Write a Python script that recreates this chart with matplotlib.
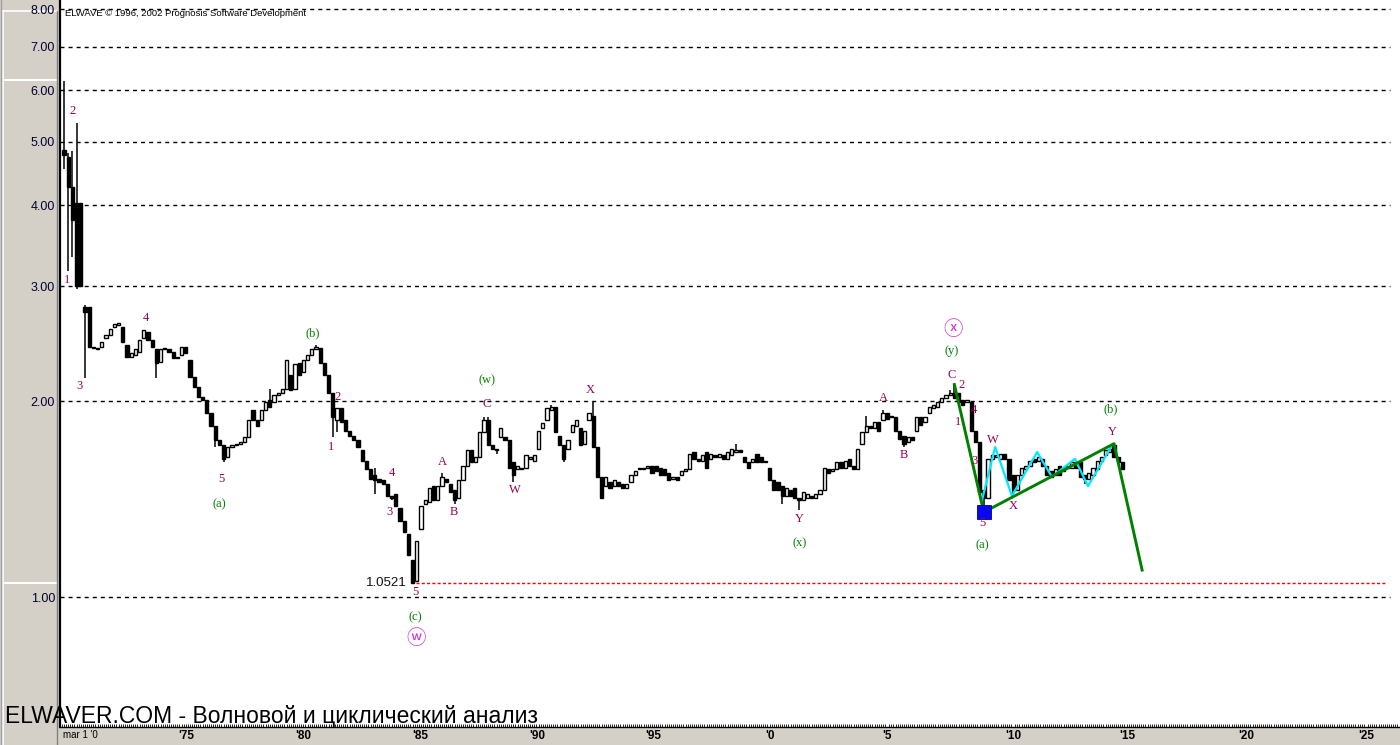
import numpy as np
import matplotlib.pyplot as plt
from matplotlib.lines import Line2D
from matplotlib.ticker import FixedLocator, NullLocator, MultipleLocator

# Bar data (one bar per index)
opens = [
    4.86, 4.74, 4.26, 4.03, 4.03, 2.79, 2.79, 2.42, 2.41, 2.42,
    2.50, 2.53, 2.60, 2.62, 2.60, 2.44, 2.34, 2.35, 2.38, 2.50,
    2.55, 2.48, 2.40, 2.30, 2.40, 2.40, 2.38, 2.33, 2.35, 2.42,
    2.31, 2.18, 2.10, 2.03, 2.01, 1.92, 1.83, 1.74, 1.71, 1.64,
    1.70, 1.71, 1.72, 1.73, 1.76, 1.94, 1.87, 1.87, 1.94, 2.01,
    1.99, 2.04, 2.06, 2.09, 2.19, 2.09, 2.29, 2.22, 2.31, 2.35,
    2.40, 2.41, 2.29, 2.19, 2.06, 1.87, 1.95, 1.87, 1.80, 1.77,
    1.74, 1.68, 1.62, 1.57, 1.54, 1.52, 1.51, 1.49, 1.43, 1.44,
    1.37, 1.31, 1.25, 1.14, 1.06, 1.27, 1.39, 1.40, 1.48, 1.41,
    1.48, 1.52, 1.49, 1.46, 1.42, 1.51, 1.59, 1.68, 1.61, 1.64,
    1.79, 1.87, 1.71, 1.69, 1.76, 1.76, 1.74, 1.61, 1.57, 1.58,
    1.58, 1.63, 1.62, 1.69, 1.82, 1.87, 1.94, 1.96, 1.77, 1.71,
    1.69, 1.79, 1.83, 1.82, 1.72, 1.87, 1.90, 1.70, 1.53, 1.48,
    1.50, 1.48, 1.50, 1.49, 1.47, 1.50, 1.54, 1.57, 1.57, 1.58,
    1.59, 1.59, 1.58, 1.57, 1.55, 1.52, 1.53, 1.54, 1.56, 1.57,
    1.67, 1.63, 1.62, 1.67, 1.63, 1.65, 1.64, 1.65, 1.63, 1.65,
    1.67, 1.68, 1.64, 1.61, 1.61, 1.66, 1.64, 1.62, 1.58, 1.51,
    1.50, 1.48, 1.43, 1.46, 1.47, 1.42, 1.41, 1.42, 1.43, 1.42,
    1.44, 1.46, 1.57, 1.56, 1.57, 1.61, 1.58, 1.63, 1.59, 1.57,
    1.72, 1.79, 1.83, 1.82, 1.86, 1.87, 1.92, 1.90, 1.89, 1.80,
    1.77, 1.73, 1.76, 1.80, 1.89, 1.86, 1.92, 1.95, 1.96, 1.99,
    2.02, 2.04, 2.06, 2.06, 2.01, 1.99, 1.99, 1.80, 1.73, 1.46,
    1.42, 1.63, 1.64, 1.63, 1.66, 1.63, 1.54, 1.46, 1.54, 1.57,
    1.59, 1.63, 1.62, 1.63, 1.59, 1.56, 1.54, 1.59, 1.56, 1.58,
    1.58, 1.61, 1.61, 1.54, 1.52, 1.54, 1.57, 1.62, 1.65, 1.67,
    1.71, 1.64, 1.61,
]
closes = [
    4.77, 4.26, 3.79, 3.00, 3.00, 2.74, 2.42, 2.41, 2.40, 2.46,
    2.53, 2.58, 2.63, 2.64, 2.46, 2.34, 2.37, 2.40, 2.48, 2.57,
    2.48, 2.42, 2.29, 2.40, 2.41, 2.38, 2.33, 2.34, 2.42, 2.37,
    2.18, 2.10, 2.03, 2.01, 1.92, 1.83, 1.74, 1.71, 1.63, 1.70,
    1.71, 1.72, 1.73, 1.76, 1.87, 1.87, 1.83, 1.94, 1.99, 1.96,
    2.04, 2.06, 2.09, 2.31, 2.08, 2.28, 2.19, 2.31, 2.35, 2.40,
    2.42, 2.29, 2.19, 2.06, 1.89, 1.95, 1.86, 1.80, 1.77, 1.74,
    1.70, 1.62, 1.57, 1.52, 1.51, 1.50, 1.49, 1.43, 1.42, 1.38,
    1.31, 1.26, 1.16, 1.0521, 1.22, 1.38, 1.41, 1.47, 1.41, 1.48,
    1.53, 1.50, 1.45, 1.41, 1.51, 1.59, 1.68, 1.61, 1.64, 1.79,
    1.87, 1.71, 1.69, 1.68, 1.82, 1.74, 1.58, 1.54, 1.59, 1.57,
    1.65, 1.64, 1.65, 1.80, 1.85, 1.95, 1.96, 1.79, 1.71, 1.63,
    1.74, 1.84, 1.87, 1.71, 1.80, 1.92, 1.70, 1.53, 1.42, 1.53,
    1.47, 1.51, 1.48, 1.47, 1.49, 1.54, 1.56, 1.58, 1.58, 1.59,
    1.55, 1.56, 1.54, 1.54, 1.51, 1.53, 1.51, 1.56, 1.57, 1.66,
    1.63, 1.62, 1.65, 1.58, 1.66, 1.64, 1.66, 1.63, 1.67, 1.69,
    1.68, 1.67, 1.61, 1.58, 1.63, 1.61, 1.61, 1.61, 1.51, 1.46,
    1.46, 1.43, 1.47, 1.43, 1.42, 1.41, 1.45, 1.44, 1.42, 1.44,
    1.46, 1.58, 1.55, 1.57, 1.61, 1.58, 1.62, 1.59, 1.57, 1.69,
    1.79, 1.83, 1.82, 1.86, 1.80, 1.92, 1.88, 1.89, 1.80, 1.75,
    1.72, 1.76, 1.74, 1.89, 1.84, 1.89, 1.96, 1.97, 1.99, 2.02,
    2.04, 2.06, 2.02, 1.99, 1.97, 2.01, 1.80, 1.73, 1.45, 1.42,
    1.63, 1.65, 1.65, 1.66, 1.63, 1.51, 1.46, 1.54, 1.58, 1.59,
    1.62, 1.61, 1.64, 1.59, 1.54, 1.53, 1.57, 1.54, 1.58, 1.59,
    1.61, 1.58, 1.53, 1.52, 1.55, 1.58, 1.62, 1.64, 1.68, 1.69,
    1.64, 1.61, 1.57,
]
# visible wick extremes (bar index -> price)
wick_highs = {0: 6.20, 1: 4.80, 2: 4.84, 3: 5.34, 5: 2.81, 49: 2.09, 60: 2.44,
              74: 1.58, 90: 1.55, 100: 1.89, 101: 1.89, 116: 1.97, 126: 1.99,
              160: 1.72, 191: 1.90, 195: 1.94, 211: 2.08, 212: 2.12, 250: 1.72}
wick_lows = {0: 4.54, 1: 3.17, 2: 3.33, 3: 2.97, 5: 2.17, 22: 2.17, 36: 1.70,
             38: 1.61, 64: 1.76, 65: 1.79, 74: 1.44, 78: 1.41, 93: 1.39, 103: 1.66,
             107: 1.50, 119: 1.61, 171: 1.39, 175: 1.36, 200: 1.70, 219: 1.35,
             226: 1.43, 243: 1.49}

low_value = 1.0521

# wave count lines
green_x = [212, 219, 250, 256.7]
green_y = [2.12, 1.35, 1.72, 1.10]
cyan_x = [218.6, 221.7, 225.7, 231.7, 235.2, 240.7, 243.8, 249.3]
cyan_y = [1.41, 1.70, 1.43, 1.67, 1.53, 1.63, 1.48, 1.70]

price_ticks = [1, 2, 3, 4, 5, 6, 7, 8]
price_labels = ["1.00", "2.00", "3.00", "4.00", "5.00", "6.00", "7.00", "8.00"]
year_ticks = [29.05, 56.9, 84.8, 112.6, 140.2, 168.1, 196.0, 226.0, 253.1, 281.4, 310.0]
year_labels = ["'75", "'80", "'85", "'90", "'95", "'0", "'5", "'10", "'15", "'20", "'25"]

# wave labels: text, bar index, price, kind
wave_labels = [
    ("2", 2.1, 5.58, "m"), ("1", 0.7, 3.07, "m"), ("3", 3.8, 2.11, "m"), ("4", 19.5, 2.68, "m"),
    ("5", 37.4, 1.52, "m"), ("(a)", 37.1, 1.39, "g"), ("(b)", 59.3, 2.54, "g"),
    ("2", 65.2, 2.03, "m"), ("1", 63.6, 1.70, "m"), ("4", 78.1, 1.55, "m"), ("3", 77.4, 1.35, "m"),
    ("A", 90.2, 1.61, "m"), ("B", 92.9, 1.35, "m"), ("5", 83.6, 1.018, "m"), ("(c)", 83.6, 0.932, "g"),
    ("\u24e6", 83.8, 0.865, "c"),
    ("(w)", 100.7, 2.15, "g"), ("C", 100.7, 1.98, "m"), ("W", 107.4, 1.46, "m"), ("X", 125.2, 2.08, "m"),
    ("Y", 175.2, 1.32, "m"), ("(x)", 175.2, 1.21, "g"), ("A", 195.2, 2.02, "m"), ("B", 200.0, 1.65, "m"),
    ("\u24e7", 211.7, 2.58, "c"), ("(y)", 211.4, 2.39, "g"), ("C", 211.4, 2.19, "m"), ("2", 213.6, 2.12, "m"),
    ("1", 212.9, 1.86, "m"), ("4", 216.7, 1.94, "m"), ("3", 216.7, 1.62, "m"),
    ("W", 221.2, 1.74, "m"), ("X", 226.0, 1.38, "m"), ("5", 218.6, 1.30, "m"), ("(a)", 218.6, 1.20, "g"),
    ("Y", 249.5, 1.79, "m"), ("(b)", 249.3, 1.94, "g"),
]

W, H = 1400, 745
GREY = "#D4D0C8"

fig = plt.figure(figsize=(W / 100, H / 100), dpi=100, facecolor=GREY)
ax = fig.add_axes([60 / W, 18 / H, 1340 / W, 727 / H])
ax.set_facecolor("white")
ax.set_yscale("log")
ax.set_xlim(-0.95, 318.1)
ax.set_ylim(0.6315, 8.26)

# candles
o = np.array(opens)
c = np.array(closes)
idx = np.arange(len(c))
hi = np.maximum(o, c)
lo = np.minimum(o, c)
for k, v in wick_highs.items():
    hi[k] = v
for k, v in wick_lows.items():
    lo[k] = v
up = c >= o
ax.vlines(idx, lo, hi, color="black", lw=1.1, zorder=3)
ax.bar(idx[up], c[up] - o[up], bottom=o[up], width=0.8, facecolor="white",
       edgecolor="black", lw=1.0, zorder=4)
ax.bar(idx[~up], o[~up] - c[~up], bottom=c[~up], width=0.8, facecolor="black",
       edgecolor="black", lw=1.0, zorder=4)

# grid lines
ax.hlines(price_ticks, -0.95, 315.7, colors="black", linestyles=(0, (2.9, 2.9)), lw=1, zorder=1)
ax.hlines(low_value, 83.8, 314.5, colors="red", linestyles=(0, (2.2, 1.6)), lw=1, zorder=1)
ax.text(81.5, low_value, "1.0521", ha="right", va="center", fontsize=9.5,
        family="Liberation Sans", color="#101010", zorder=6)

# wave lines
ax.plot(cyan_x, cyan_y, color="#00E8FF", lw=1.6, zorder=5)
ax.plot(green_x, green_y, color="#008000", lw=2.1, zorder=6)
ax.plot([219], [1.35], marker="s", ms=10.5, color="#0808F0", mec="#000090", mew=0.6, zorder=7)

colors = {"m": "#990050", "g": "#008000", "c": "#CC33CC"}
for txt, x, y, kind in wave_labels:
    if kind == "c":
        ax.text(x, y, txt, ha="center", va="center", fontsize=14,
                family=["Noto Sans CJK JP", "DejaVu Sans"], color=colors[kind], zorder=8)
    else:
        ax.text(x, y, txt, ha="center", va="center", fontsize=9, family="Liberation Serif",
                color=colors[kind], zorder=8)

# axes styling
for s in ("top", "right"):
    ax.spines[s].set_visible(False)
ax.spines["left"].set_linewidth(1.6)
ax.spines["bottom"].set_linewidth(1.0)
ax.yaxis.set_major_locator(FixedLocator(price_ticks))
ax.yaxis.set_minor_locator(NullLocator())
ax.set_yticklabels(price_labels, fontsize=9, family="Liberation Sans", color="#000030")
ax.tick_params(axis="y", length=0, pad=3.6)
ax.xaxis.set_major_locator(FixedLocator(year_ticks))
ax.xaxis.set_minor_locator(MultipleLocator(0.5))
ax.set_xticklabels(year_labels, fontsize=8.5, family="Liberation Sans", fontweight="bold")
ax.tick_params(axis="x", which="major", length=0, pad=2)
ax.tick_params(axis="x", which="minor", direction="in", length=2.2, width=0.6)

# left panel frame (drawn under the axes so tick labels stay on top)
def fig_line(x0, y0, x1, y1, color, lw):
    fig.add_artist(Line2D([x0 / W, x1 / W], [1 - y0 / H, 1 - y1 / H], color=color, lw=lw, zorder=-1))

fig_line(3, 11, 57, 11, "white", 1.2)
fig_line(3, 11, 3, 745, "white", 1.2)
fig_line(3, 80, 57, 80, "white", 1.5)
fig_line(3, 583, 57, 583, "white", 1.5)
fig_line(57, 11, 57, 745, "#808080", 1.0)
fig_line(0.5, 0, 0.5, 745, "#A0A0A0", 1.0)

fig.text(65 / W, 1 - 13 / H, "ELWAVE \u00a9 1996, 2002 Prognosis Software Development",
         fontsize=6.8, family="Liberation Sans", va="center", ha="left", color="black")
fig.text(5 / W, 1 - 717 / H, "ELWAVER.COM - Волновой и циклический анализ",
         fontsize=16.5, family="Liberation Sans", va="center", ha="left", color="black", zorder=10)
fig.text(63 / W, 1 - 735 / H, "mar 1 '0", fontsize=7, family="Liberation Sans",
         va="center", ha="left", color="black")

fig.savefig("out.png", dpi=100, facecolor=fig.get_facecolor())
